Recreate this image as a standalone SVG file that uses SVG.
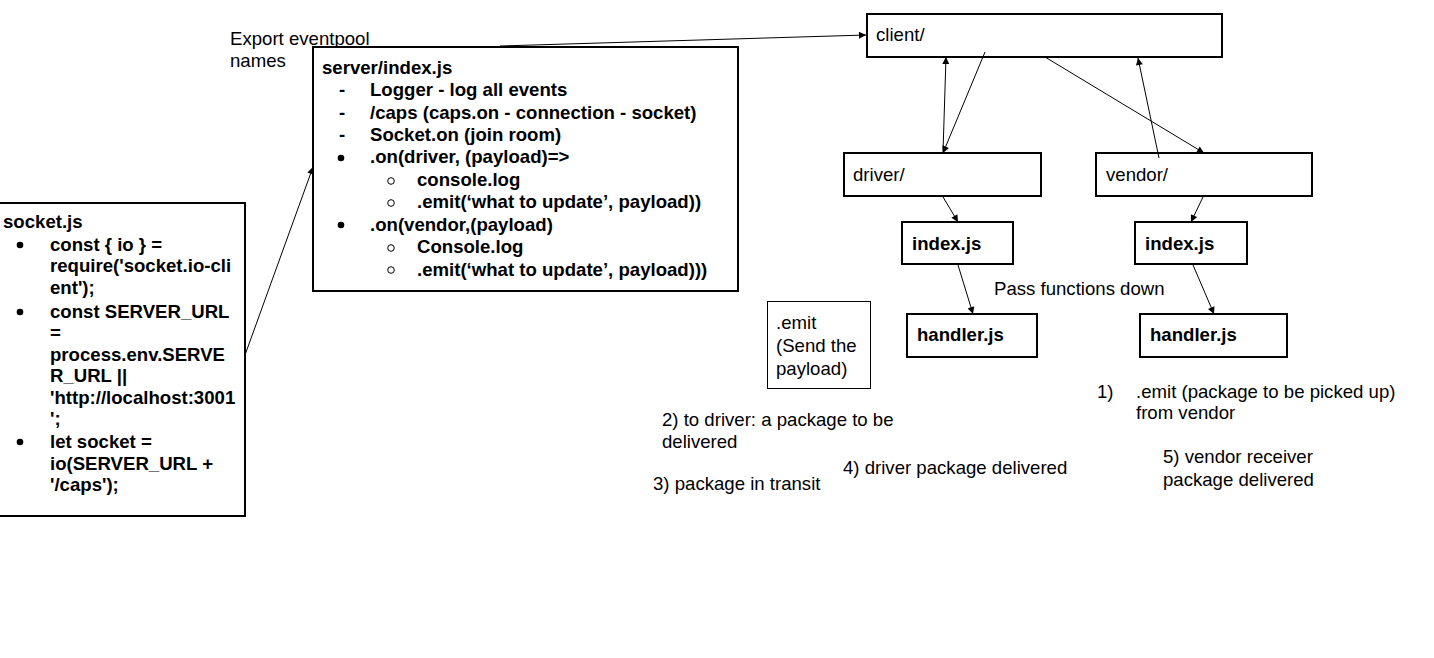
<svg xmlns="http://www.w3.org/2000/svg" width="1434" height="658" viewBox="0 0 1434 658">
<defs>
<marker id="ah" viewBox="0 0 10 10" refX="10" refY="5" markerWidth="8" markerHeight="7" markerUnits="userSpaceOnUse" orient="auto">
<path d="M0,0 L10,5 L0,10 z" fill="#000"/>
</marker>
<style>
.box{fill:#fff;stroke:#000;stroke-width:2}
.thin{fill:#fff;stroke:#000;stroke-width:1}
.t{font-family:"Liberation Sans",Arial,sans-serif;font-size:18.6px;fill:#000}
.b{font-family:"Liberation Sans",Arial,sans-serif;font-size:18.6px;font-weight:bold;fill:#000}
.c{fill:none;stroke:#000;stroke-width:1;marker-end:url(#ah)}
</style>
</defs>
<rect width="1434" height="658" fill="#fff"/>

<g id="label-export">
<text class="t" x="230" y="45">Export eventpool</text>
<text class="t" x="230" y="67">names</text>
</g>

<g id="socket">
<rect class="box" x="-3" y="203" width="248" height="313"/>
<text class="b" x="3" y="228">socket.js</text>
<circle cx="20" cy="245" r="3.3"/>
<text class="b" x="50" y="251">const { io } =</text>
<text class="b" x="50" y="272">require('socket.io-cli</text>
<text class="b" x="50" y="294">ent');</text>
<circle cx="20" cy="312" r="3.3"/>
<text class="b" x="50" y="318">const SERVER_URL</text>
<text class="b" x="50" y="339">=</text>
<text class="b" x="50" y="361">process.env.SERVE</text>
<text class="b" x="50" y="382">R_URL ||</text>
<text class="b" x="50" y="404">'http://localhost:3001</text>
<text class="b" x="50" y="425">';</text>
<circle cx="20" cy="442" r="3.3"/>
<text class="b" x="50" y="448">let socket =</text>
<text class="b" x="50" y="470">io(SERVER_URL +</text>
<text class="b" x="50" y="491">'/caps');</text>
</g>

<g id="server">
<rect class="box" x="313" y="47" width="425" height="244"/>
<text class="b" x="322" y="74">server/index.js</text>
<text class="b" x="339" y="96">-</text>
<text class="b" x="370" y="96">Logger - log all events</text>
<text class="b" x="339" y="119">-</text>
<text class="b" x="370" y="119">/caps (caps.on - connection - socket)</text>
<text class="b" x="339" y="141">-</text>
<text class="b" x="370" y="141">Socket.on (join room)</text>
<circle cx="341" cy="158" r="3.3"/>
<text class="b" x="370" y="163">.on(driver, (payload)=&gt;</text>
<circle cx="391" cy="181" r="3.3" fill="none" stroke="#000" stroke-width="1"/>
<text class="b" x="417" y="186">console.log</text>
<circle cx="391" cy="203" r="3.3" fill="none" stroke="#000" stroke-width="1"/>
<text class="b" x="417" y="208">.emit(‘what to update’, payload))</text>
<circle cx="341" cy="225" r="3.3"/>
<text class="b" x="370" y="231">.on(vendor,(payload)</text>
<circle cx="391" cy="248" r="3.3" fill="none" stroke="#000" stroke-width="1"/>
<text class="b" x="417" y="253">Console.log</text>
<circle cx="391" cy="270" r="3.3" fill="none" stroke="#000" stroke-width="1"/>
<text class="b" x="417" y="276">.emit(‘what to update’, payload)))</text>
</g>

<g id="client">
<rect class="box" x="867" y="14" width="355" height="43"/>
<text class="t" x="876" y="41">client/</text>
</g>

<g id="driver">
<rect class="box" x="844" y="153" width="197" height="43"/>
<text class="t" x="853" y="181">driver/</text>
</g>

<g id="vendor">
<rect class="box" x="1096" y="153" width="216" height="43"/>
<text class="t" x="1106" y="181">vendor/</text>
</g>

<g id="driver-index">
<rect class="box" x="902" y="222" width="111" height="42"/>
<text class="b" x="912" y="250">index.js</text>
</g>

<g id="vendor-index">
<rect class="box" x="1135" y="222" width="112" height="42"/>
<text class="b" x="1145" y="250">index.js</text>
</g>

<g id="driver-handler">
<rect class="box" x="907" y="314" width="130" height="43"/>
<text class="b" x="917" y="341">handler.js</text>
</g>

<g id="vendor-handler">
<rect class="box" x="1140" y="314" width="147" height="43"/>
<text class="b" x="1150" y="341">handler.js</text>
</g>

<g id="emit-note">
<rect class="thin" x="767.5" y="301.5" width="103" height="87"/>
<text class="t" x="776" y="329">.emit</text>
<text class="t" x="776" y="352">(Send the</text>
<text class="t" x="776" y="375">payload)</text>
</g>

<g id="labels">
<text class="t" x="994" y="295">Pass functions down</text>
<text class="t" x="662" y="426">2) to driver: a package to be</text>
<text class="t" x="662" y="448">delivered</text>
<text class="t" x="653" y="490">3) package in transit</text>
<text class="t" x="843" y="474">4) driver package delivered</text>
<text class="t" x="1097" y="398">1)</text>
<text class="t" x="1136" y="398">.emit (package to be picked up)</text>
<text class="t" x="1136" y="419">from vendor</text>
<text class="t" x="1163" y="463">5) vendor receiver</text>
<text class="t" x="1163" y="486">package delivered</text>
</g>

<g id="connectors">
<path class="c" d="M245,355 L313,167"/>
<path class="c" d="M500,46 L866,35"/>
<path class="c" d="M943,152 L946,57"/>
<path class="c" d="M985,52 L943,153"/>
<path class="c" d="M1045,57 L1204,153"/>
<path class="c" d="M1159,158 L1138,58"/>
<path class="c" d="M943,197 L958,222"/>
<path class="c" d="M1203,197 L1191,222"/>
<path class="c" d="M958,265 L973,314"/>
<path class="c" d="M1193,265 L1214,314"/>
</g>
</svg>
